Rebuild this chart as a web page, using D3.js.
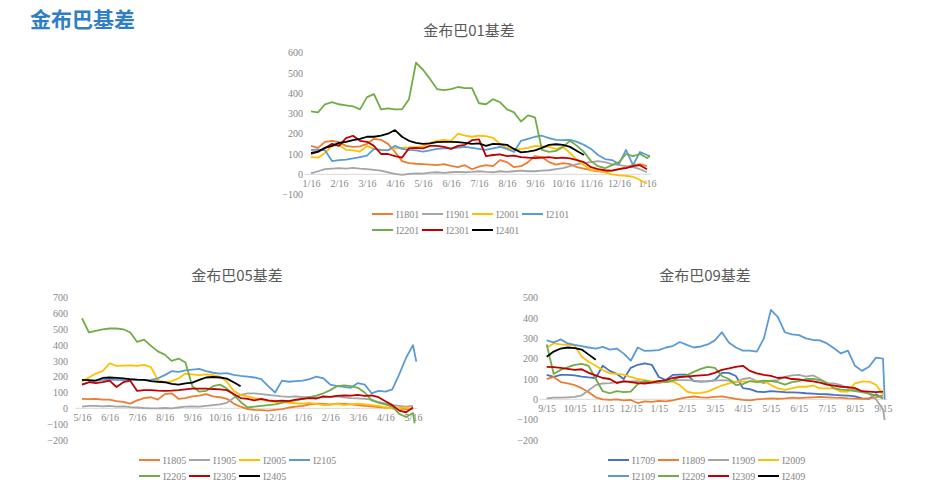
<!DOCTYPE html>
<html><head><meta charset="utf-8">
<script src="https://cdn.jsdelivr.net/npm/d3@7"></script>
<style>
body{margin:0;background:#fff;}
svg text{font-family:"Liberation Serif","DejaVu Serif",serif;}
</style></head><body>
<svg id="c" width="950" height="495"></svg>
<script>
// ---------- DATA ----------
const mainTitle = "金布巴基差";
const titles = ["金布巴01基差", "金布巴05基差", "金布巴09基差"];

const xLabels01 = ["1/16","2/16","3/16","4/16","5/16","6/16","7/16","8/16","9/16","10/16","11/16","12/16","1/16"];
const xLabels05 = ["5/16","6/16","7/16","8/16","9/16","10/16","11/16","12/16","1/16","2/16","3/16","4/16","5/16"];
const xLabels09 = ["9/15","10/15","11/15","12/15","1/15","2/15","3/15","4/15","5/15","6/15","7/15","8/15","9/15"];
const yTicks01 = [-100,0,100,200,300,400,500,600];
const yTicks05 = [-200,-100,0,100,200,300,400,500,600,700];
const yTicks09 = [-200,-100,0,100,200,300,400,500];

// values every quarter month from the first label; endAt = month of last point if it differs
const names01 = ["I1801","I1901","I2001","I2101","I2201","I2301","I2401"];
const I1801 = [140,130,160,165,158,140,135,138,150,175,170,150,110,65,55,52,50,48,45,50,42,35,45,25,38,45,40,70,60,35,40,60,90,85,60,48,55,50,35,28,20,15,12,18,25,35,45,50,40];
const I1901 = [5,15,25,28,30,28,32,28,25,22,18,10,2,-3,2,5,3,8,10,7,10,12,10,12,15,12,10,15,12,15,18,15,15,18,20,25,30,40,50,55,60,65,60,50,45,40,35,25,10];
const I2001 = [85,82,105,140,145,120,118,112,140,125,118,120,128,130,132,135,138,155,165,170,165,200,190,185,190,188,180,150,130,120,125,130,140,138,135,125,135,105,70,45,22,18,10,0,-5,-8,-12,-28,-45];
const I2101 = [120,122,118,65,70,72,78,85,92,125,120,118,140,125,120,118,112,118,125,128,128,132,135,130,125,120,128,135,125,110,165,175,185,190,178,170,168,170,160,145,125,95,75,70,50,120,45,110,95,90];
const I2201 = [310,305,345,355,345,340,335,320,380,395,320,325,320,320,370,550,515,470,420,415,420,430,425,425,350,345,370,355,320,305,260,290,280,120,110,115,135,165,140,110,65,40,30,45,60,100,90,100,80,90];
const I2301 = [100,110,130,150,140,178,190,165,160,140,100,100,90,82,128,130,128,140,140,135,125,140,145,168,172,90,95,98,90,92,85,82,80,82,85,80,82,78,70,60,35,25,20,18,25,30,40,45,25];
const I2401 = [105,112,130,140,155,160,168,175,185,185,190,200,218,185,165,155,150,152,158,160,160,158,155,150,152,140,150,148,145,125,108,112,118,130,145,148,145,135,115,95];
const end01 = {I2101:12.1, I2201:12.1};

const names05 = ["I1805","I1905","I2005","I2105","I2205","I2305","I2405"];
const I1805 = [60,58,60,55,55,45,40,30,50,65,70,55,90,95,60,65,75,80,90,75,70,60,30,10,-5,-10,-12,-15,-10,-5,5,10,15,25,30,28,25,30,28,25,20,15,12,8,5,0,-3,-5,-2];
const I1905 = [10,15,15,12,15,10,12,8,5,2,0,0,2,0,5,10,12,10,15,20,25,35,65,85,95,95,90,85,80,75,72,75,70,72,68,70,72,75,70,65,63,60,55,40,30,20,15,10,15];
const I2005 = [170,195,220,235,285,268,270,272,268,275,260,180,165,170,190,220,215,210,215,210,200,170,110,85,75,65,55,45,40,40,35,32,30,35,28,20,22,30,20,25,30,25,20,15,5,0,2,5,-5];
const I2105 = [150,165,175,180,180,180,178,182,180,178,180,190,210,235,230,240,245,250,235,225,220,222,212,205,200,195,185,140,100,175,168,172,175,185,200,190,150,140,135,130,160,150,95,110,105,120,215,320,400,295];
const I2205 = [570,480,490,500,505,505,500,480,420,435,395,360,340,300,315,290,140,105,110,140,150,125,85,40,5,10,15,20,25,35,45,50,60,70,80,95,115,140,145,140,130,100,50,35,25,10,-35,-55,-30,-95];
const I2305 = [150,165,160,165,175,135,165,175,110,115,115,112,110,112,115,120,125,125,125,122,120,115,90,65,60,50,60,50,45,48,45,55,60,65,62,75,72,78,82,80,85,78,82,70,45,20,-15,-25,5];
const I2405 = [180,178,175,192,195,193,190,185,182,180,172,168,165,155,150,158,162,180,195,198,195,188,165,140];
const end05 = {I2105:12.12, I2205:12.06};

const names09 = ["I1709","I1809","I1909","I2009","I2109","I2209","I2309","I2409"];
const I1709 = [120,110,120,120,118,112,108,105,165,140,125,100,155,170,177,170,110,95,120,122,122,90,87,88,95,130,130,115,55,50,38,35,40,38,35,34,33,30,28,26,25,22,20,18,15,5,3,25,5];
const I1809 = [100,110,85,78,70,55,35,10,0,-3,0,-5,-3,-18,-10,-12,-8,-10,-5,3,10,14,10,8,12,15,8,2,-3,-5,0,2,5,3,5,8,6,8,10,12,10,8,7,5,4,2,5,10,20];
const I1909 = [5,8,8,10,12,20,45,70,78,80,85,85,88,90,85,82,80,88,92,95,95,92,88,90,92,95,92,85,100,105,90,80,92,95,110,118,120,112,118,100,80,78,70,55,46,38,28,0,-50,-102];
const I2009 = [255,275,270,268,265,210,185,165,144,128,125,122,110,100,95,88,90,85,88,70,38,30,32,38,54,68,78,87,87,88,90,92,70,54,46,54,62,62,68,54,54,54,38,38,79,87,87,72,25];
const I2109 = [290,280,295,275,268,262,255,250,258,245,250,225,190,255,238,240,242,255,262,282,268,255,260,270,290,330,280,255,240,240,235,300,440,405,330,320,316,300,292,290,275,251,226,240,165,140,160,205,200,0];
const I2209 = [270,125,145,158,170,175,165,100,40,30,40,35,38,75,90,85,90,85,92,110,118,135,150,160,155,115,100,70,75,90,85,92,90,85,72,85,90,100,100,95,80,55,48,45,40,35,28,20,5];
const I2309 = [160,158,155,150,145,148,130,118,105,100,80,90,85,80,78,82,90,95,105,110,112,115,118,120,130,145,152,160,165,140,128,120,115,105,108,100,98,92,88,82,72,68,62,60,55,40,38,35,38];
const I2409 = [210,235,250,255,252,245,220,195];
const end09 = {I2109:12.06, I1909:12.06};

// ---------- STYLES / LAYOUT ----------
const colors = {
  I1801:"#ED7D31", I1901:"#A5A5A5", I2001:"#FFC000", I2101:"#5B9BD5", I2201:"#70AD47", I2301:"#C00000", I2401:"#000000",
  I1805:"#ED7D31", I1905:"#A5A5A5", I2005:"#FFC000", I2105:"#5B9BD5", I2205:"#70AD47", I2305:"#C00000", I2405:"#000000",
  I1709:"#4472C4", I1809:"#ED7D31", I1909:"#A5A5A5", I2009:"#FFC000", I2109:"#5B9BD5", I2209:"#70AD47", I2309:"#C00000", I2409:"#000000"
};
const seriesData = {I1801,I1901,I2001,I2101,I2201,I2301,I2401,I1805,I1905,I2005,I2105,I2205,I2305,I2405,I1709,I1809,I1909,I2009,I2109,I2209,I2309,I2409};

const charts = [
  {title:titles[0], tx:469, ty:36, xr:[311,647], yr:[194.6,52.5], ydom:[-100,600], yt:yTicks01, xl:xLabels01, names:names01, ends:end01, ylx:303, leg:[372,214]},
  {title:titles[1], tx:237, ty:281, xr:[82,413], yr:[439.9,297.7], ydom:[-200,700], yt:yTicks05, xl:xLabels05, names:names05, ends:end05, ylx:68, leg:[139,460]},
  {title:titles[2], tx:705, ty:281, xr:[546.7,883], yr:[440,297.7], ydom:[-200,500], yt:yTicks09, xl:xLabels09, names:names09, ends:end09, ylx:538, leg:[608,460]}
];

const svg = d3.select("#c");
const txtColor = "#868686";

svg.append("text").attr("x",30).attr("y",27).text(mainTitle)
  .style("font-family","'Noto Sans CJK SC'").style("font-size","21px").style("font-weight","bold")
  .attr("fill","#2F7EC6");

charts.forEach(c => {
  const x = d3.scaleLinear().domain([0,12]).range(c.xr);
  const y = d3.scaleLinear().domain(c.ydom).range(c.yr);
  const g = svg.append("g");

  g.append("text").attr("x",c.tx).attr("y",c.ty).attr("text-anchor","middle").text(c.title)
    .style("font-family","'Noto Sans CJK SC'").style("font-size","15px").attr("fill","#595959");

  // zero line
  g.append("line").attr("x1",x(-0.25)).attr("x2",x(12.15)).attr("y1",y(0)).attr("y2",y(0))
    .attr("stroke","#d9d9d9").attr("stroke-width",1);

  // y axis labels
  const ya = g.append("g").attr("transform",`translate(${c.ylx},0)`)
    .call(d3.axisLeft(y).tickValues(c.yt).tickSize(0).tickPadding(0).tickFormat(d3.format("d")));
  ya.select(".domain").remove();
  ya.selectAll("text").style("font-family","'Liberation Serif'").style("font-size","10px").attr("fill",txtColor);

  // x axis labels
  const xa = g.append("g").attr("transform",`translate(0,${y(0)})`)
    .call(d3.axisBottom(x).tickValues(d3.range(13)).tickSize(0).tickPadding(6).tickFormat(i => c.xl[i]));
  xa.select(".domain").remove();
  xa.selectAll("text").style("font-family","'Liberation Serif'").style("font-size","10px").attr("fill",txtColor);

  // lines
  const line = d3.line().x(d => x(d[0])).y(d => y(d[1]));
  c.names.forEach(n => {
    const vals = seriesData[n];
    const endAt = c.ends[n];
    const pts = vals.map((v,i) => [(i === vals.length-1 && endAt != null) ? endAt : i*0.25, v]);
    g.append("path").datum(pts).attr("d",line).attr("fill","none")
      .attr("stroke",colors[n]).attr("stroke-width",1.8).attr("stroke-linejoin","round");
  });

  // legend
  c.names.forEach((n,i) => {
    const lx = c.leg[0] + (i%4)*50, ly = c.leg[1] + Math.floor(i/4)*16;
    g.append("line").attr("x1",lx).attr("x2",lx+21).attr("y1",ly).attr("y2",ly)
      .attr("stroke",colors[n]).attr("stroke-width",2);
    g.append("text").attr("x",lx+24).attr("y",ly).attr("dy","0.35em").text(n)
      .style("font-size","10px").attr("fill",txtColor);
  });
});
</script></body></html>
